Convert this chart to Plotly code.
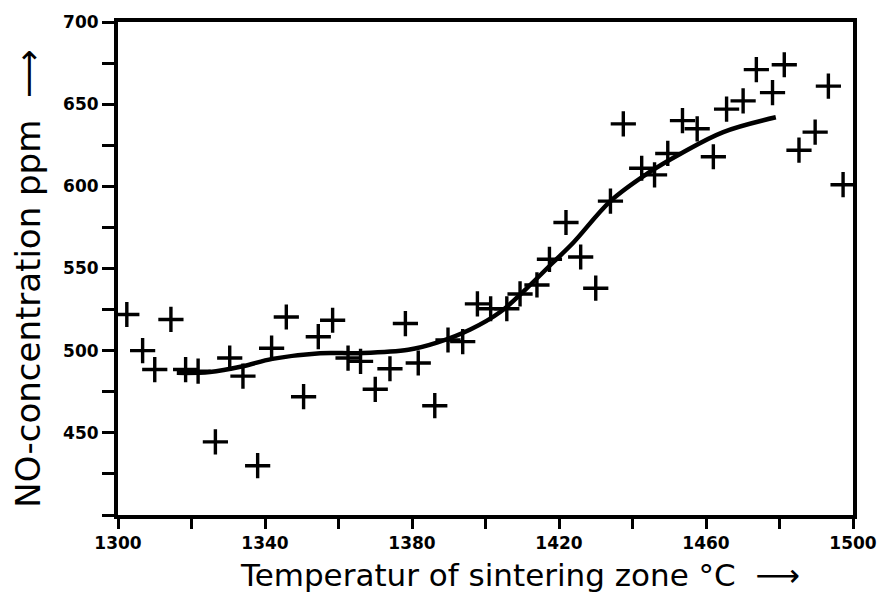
import plotly.graph_objects as go

# Measured NO concentration against sintering-zone temperature
temperature = [1302.4, 1306.7, 1310.0, 1314.4, 1318.4, 1321.8, 1326.5, 1330.4, 1334.0, 1338.0,
               1341.8, 1345.8, 1350.5, 1354.5, 1358.4, 1362.6, 1366.0, 1370.0, 1374.0, 1378.2,
               1381.7, 1386.2, 1389.8, 1393.8, 1397.8, 1401.4, 1405.8, 1409.4, 1414.0, 1417.4,
               1421.9, 1425.9, 1430.0, 1434.0, 1437.5, 1442.5, 1446.0, 1449.6, 1453.6, 1457.6,
               1462.0, 1465.6, 1470.1, 1473.7, 1478.1, 1481.3, 1485.3, 1489.7, 1493.3, 1497.3]
no_ppm = [522, 500, 488.5, 519, 488.5, 487.5, 444.5, 495.5, 484.5, 430,
          501.5, 520.5, 472, 508.5, 518.5, 495.5, 493.5, 476.5, 489, 516.5,
          492.5, 466.5, 506.5, 505.5, 528.5, 525.5, 525.5, 534.5, 540, 555.6,
          578, 557, 538, 591, 638, 611, 607, 620, 640, 635,
          618, 647, 652, 671, 657, 674, 622, 633, 661, 601]

# Smoothed trend through the measurements
trend_temp = [1316, 1325, 1334, 1342, 1355, 1366, 1379, 1387, 1396, 1404,
              1411, 1418.3, 1424, 1434, 1444.2, 1453.2, 1464.7, 1479]
trend_ppm = [486.5, 487, 490.5, 495, 498.5, 498.5, 500.5, 505, 513, 523.5,
             537.5, 553.5, 566, 591, 608, 620, 633, 642]

x_ticks = [1300, 1320, 1340, 1360, 1380, 1400, 1420, 1440, 1460, 1480, 1500]
x_labels = ["1300", "", "1340", "", "1380", "", "1420", "", "1460", "", "1500"]
y_ticks = [400, 425, 450, 475, 500, 525, 550, 575, 600, 625, 650, 675, 700]
y_labels = ["", "", "450", "", "500", "", "550", "", "600", "", "650", "", "700"]

x_title = "Temperatur of sintering zone °C  ⟶"
y_title = "NO-concentration ppm  ⟶"

fig = go.Figure()
fig.add_trace(go.Scatter(
    x=trend_temp, y=trend_ppm, mode="lines",
    line=dict(color="black", width=4.5, shape="spline", smoothing=1.0),
    hoverinfo="skip", showlegend=False,
))
fig.add_trace(go.Scatter(
    x=temperature, y=no_ppm, mode="markers",
    marker=dict(symbol="cross-thin", size=18, line=dict(color="black", width=3.4)),
    cliponaxis=False, showlegend=False,
))

tick_font = dict(family="DejaVu Sans", size=17, color="black", weight="bold")
fig.update_xaxes(
    range=[1300, 1500], tickmode="array", tickvals=x_ticks, ticktext=x_labels,
    showgrid=False, zeroline=False, showline=True, linecolor="black", linewidth=4,
    mirror=True, ticks="outside", ticklen=10, tickwidth=3, tickcolor="black",
    tickfont=tick_font,
)
fig.update_yaxes(
    range=[400, 700], tickmode="array", tickvals=y_ticks, ticktext=y_labels,
    showgrid=False, zeroline=False, showline=True, linecolor="black", linewidth=4,
    mirror=True, ticks="outside", ticklen=12, tickwidth=3, tickcolor="black",
    tickfont=tick_font,
)

fig.add_annotation(text=x_title, xref="paper", yref="paper", x=0.5475, y=-0.122,
                   showarrow=False, font=dict(family="DejaVu Sans", size=31, color="black"),
                   xanchor="center", yanchor="middle")
fig.add_annotation(text=y_title, xref="paper", yref="paper", x=-0.122, y=0.48,
                   showarrow=False, font=dict(family="DejaVu Sans", size=34, color="black"),
                   textangle=-90, xanchor="center", yanchor="middle")

fig.update_layout(
    width=889, height=600,
    margin=dict(l=118, r=24, t=17, b=85),
    paper_bgcolor="white", plot_bgcolor="white",
)

fig.write_html("out.html")
